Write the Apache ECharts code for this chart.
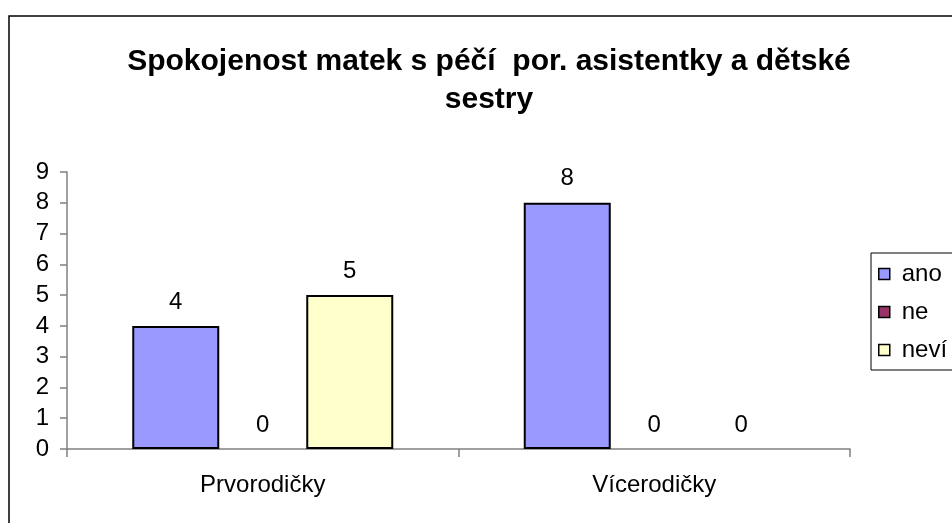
<!DOCTYPE html>
<html>
<head>
<meta charset="utf-8">
<script src="https://cdn.jsdelivr.net/npm/echarts@6/dist/echarts.min.js"></script>
<style>
  html, body { margin: 0; padding: 0; background: #fff; }
  #chart { width: 952px; height: 523px; }
</style>
</head>
<body>
<div id="chart"></div>
<script>
const categories = ['Prvorodičky', 'Vícerodičky'];
const seriesNames = ['ano', 'ne', 'neví'];
const anoValues = [4, 8];
const neValues = [0, 0];
const neviValues = [5, 0];
const yTicks = [0, 1, 2, 3, 4, 5, 6, 7, 8, 9];

const colors = ['#9999FF', '#993366', '#FFFFCC'];
const font = '"Liberation Sans", Arial, sans-serif';

const chart = echarts.init(document.getElementById('chart'));

// zero-height bars get no outline, so the baseline stays grey
const toItems = (data) =>
  data.map((v) => (v === 0 ? { value: v, itemStyle: { borderWidth: 0 } } : v));

const makeSeries = (name, data, color) => ({
  name,
  type: 'bar',
  data: toItems(data),
  barWidth: 87,
  barGap: '0%',
  itemStyle: { color, borderColor: '#000', borderWidth: 2 },
  label: {
    show: true,
    position: 'top',
    distance: 12,
    color: '#000',
    fontFamily: font,
    fontSize: 24,
  },
  emphasis: { disabled: true },
});

chart.setOption({
  animation: false,
  textStyle: { fontFamily: font },
  graphic: [
    {
      type: 'rect',
      shape: { x: 9, y: 16, width: 970, height: 530 },
      style: { fill: 'none', stroke: '#000', lineWidth: 1.5 },
      silent: true,
    },
  ],
  title: {
    text: 'Spokojenost matek s péčí  por. asistentky a dětské\nsestry',
    left: 484,
    top: 38,
    textAlign: 'center',
    textStyle: {
      fontFamily: font,
      fontSize: 30,
      fontWeight: 'bold',
      color: '#000',
      lineHeight: 38,
    },
  },
  legend: {
    data: seriesNames,
    orient: 'vertical',
    left: 871,
    top: 253,
    padding: [9, 60, 8, 7],
    itemGap: 14,
    itemWidth: 11,
    itemHeight: 11,
    icon: 'rect',
    borderColor: '#000',
    borderWidth: 1,
    itemStyle: { borderColor: '#000', borderWidth: 1.5 },
    textStyle: {
      fontFamily: font,
      fontSize: 24,
      color: '#000',
      padding: [0, 0, 0, 7],
    },
  },
  grid: {
    left: 67,
    right: 102,
    top: 172,
    bottom: 74,
  },
  xAxis: {
    type: 'category',
    data: categories,
    axisLine: { lineStyle: { color: '#808080', width: 1.5 } },
    axisTick: { show: true, length: 8, lineStyle: { color: '#808080', width: 1.5 } },
    axisLabel: { color: '#000', fontFamily: font, fontSize: 24, margin: 24 },
  },
  yAxis: {
    type: 'value',
    min: yTicks[0],
    max: yTicks[yTicks.length - 1],
    interval: 1,
    splitLine: { show: false },
    axisLine: { show: true, lineStyle: { color: '#808080', width: 1.5 } },
    axisTick: { show: true, length: 7, lineStyle: { color: '#808080', width: 1.5 } },
    axisLabel: { color: '#000', fontFamily: font, fontSize: 24, margin: 18 },
  },
  series: [
    makeSeries(seriesNames[0], anoValues, colors[0]),
    makeSeries(seriesNames[1], neValues, colors[1]),
    makeSeries(seriesNames[2], neviValues, colors[2]),
  ],
});
</script>
</body>
</html>
